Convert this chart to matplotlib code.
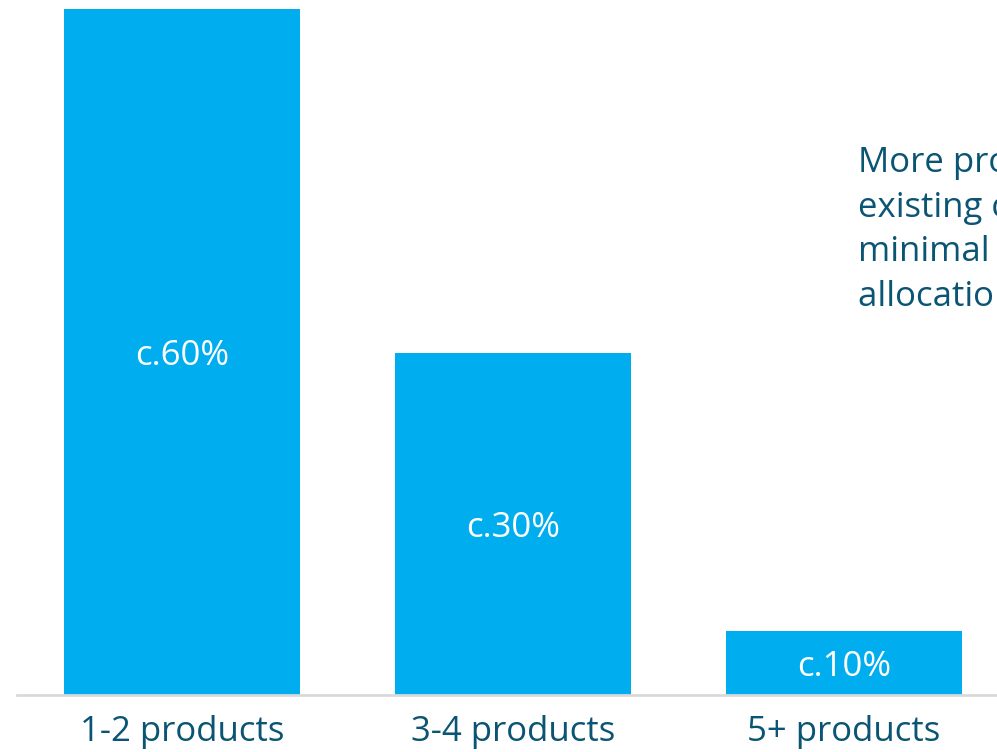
import matplotlib
matplotlib.use("Agg")
import matplotlib.pyplot as plt

categories = ["1-2 products", "3-4 products", "5+ products"]
values = [60, 29.9, 5.6]
value_labels = ["c.60%", "c.30%", "c.10%"]
note_lines = ["More products per", "existing client with", "minimal additional", "allocation of capital"]

bar_color = "#00AEEF"
text_color = "#0B5574"

plt.rcParams['font.family'] = ['Open Sans', 'DejaVu Sans']

fig = plt.figure(figsize=(9.97, 7.52), dpi=100)
ax = fig.add_axes([17/997, 57/752, 980/997, 686/752])
x = list(range(len(categories)))
bars = ax.bar(x, values, width=236/331, color=bar_color, zorder=2)
ax.set_xlim(-0.498, 2.462)
ax.set_ylim(0, 60)

for b, lab in zip(bars, value_labels):
    ax.annotate(lab, (b.get_x() + b.get_width()/2, b.get_height()/2),
                xytext=(0, -9.5), textcoords='offset points',
                ha='center', va='baseline', color='white', fontsize=25)

for spine in ['top', 'right', 'left']:
    ax.spines[spine].set_visible(False)
ax.spines['bottom'].set_color('#D9D9D9')
ax.spines['bottom'].set_linewidth(2)
ax.set_yticks([])
ax.set_xticks(x)
ax.set_xticklabels(categories, fontsize=25, color=text_color)
ax.tick_params(axis='x', length=0, pad=14.5)

for i, line in enumerate(note_lines):
    fig.text(858/997, 1 - (172 + 44.7*i)/752, line, ha='left', va='baseline',
             color=text_color, fontsize=25)

fig.savefig("out.png", dpi=100)
